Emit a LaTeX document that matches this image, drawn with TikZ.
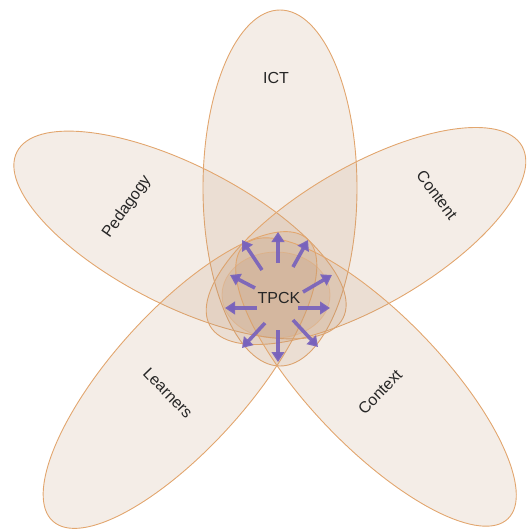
\documentclass[tikz,border=0pt]{standalone}
\usepackage{fontspec}
\setmainfont{Liberation Sans}
\usetikzlibrary{shapes.geometric,arrows.meta}

\definecolor{petalfill}{RGB}{192,150,114}
\definecolor{petalline}{RGB}{226,166,110}
\definecolor{arrowpurple}{RGB}{120,98,188}

\tikzset{
    petal/.style={ellipse, draw=petalline, line width=0.9pt, fill=petalfill,
        fill opacity=0.17, inner sep=0pt, outer sep=0pt},
    corefill/.style={ellipse, fill=petalfill, fill opacity=0.2, draw=petalline,
        draw opacity=0.45, line width=0.8pt, inner sep=0pt},
    petallabel/.style={font=\fontsize{16}{19}\selectfont, text=black!85},
    pusharrow/.style={-{Triangle[length=10pt,width=12.5pt]}, line width=3.6pt,
        draw=arrowpurple, draw opacity=0.92}
}

\begin{document}
\begin{tikzpicture}[x=1pt, y=-1pt]
    \useasboundingbox (0,0) rectangle (528,531);

    % Petals - ICT on top, Pedagogy and Content at the sides, Learners and Context below
    \node[petal, minimum width=356pt, minimum height=154pt, rotate=90] (ict) at (280,188) {};
    \node[petal, minimum width=366pt, minimum height=140pt, rotate=-27] (ped) at (180,235) {};
    \node[petal, minimum width=360pt, minimum height=140pt, rotate=30] (con) at (366,236) {};
    \node[petal, minimum width=380pt, minimum height=136pt, rotate=48] (lea) at (180,380) {};
    \node[petal, minimum width=380pt, minimum height=132pt, rotate=-46] (ctx) at (376,382) {};

    % Core (TPCK)
    \node[corefill, minimum width=108pt, minimum height=86pt] (core) at (276,295) {};

    % Arrows out of the core
    \foreach \sx/\sy/\ex/\ey in {278/263/278/232, 293/267/308/240, 262/270/242/240,
                                 303/292/332/275, 255/288/230/275, 298/308/330/308,
                                 257/308/225/308, 293/320/318/347, 278/330/278/362,
                                 265/323/242/348} {
        \draw[pusharrow] (\sx,\sy) -- (\ex,\ey);
    }

    % Labels
    \node[petallabel] (ictlabel) at (276,78) {ICT};
    \node[petallabel, rotate=55] (pedlabel) at (127,207) {Pedagogy};
    \node[petallabel, rotate=-53] (conlabel) at (437,195) {Content};
    \node[petallabel, rotate=-46] (lealabel) at (168,393) {Learners};
    \node[petallabel, rotate=46] (ctxlabel) at (380,392) {Context};
    \node[petallabel] (tpck) at (279,298) {TPCK};
\end{tikzpicture}
\end{document}
